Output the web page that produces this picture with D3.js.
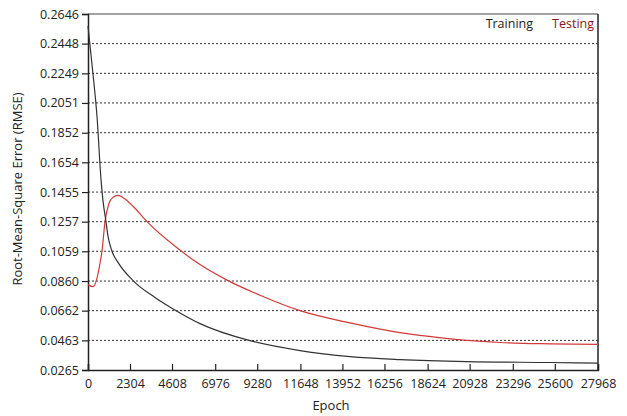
<!DOCTYPE html>
<html>
<head>
<meta charset="utf-8">
<script src="https://cdn.jsdelivr.net/npm/d3@7/dist/d3.min.js"></script>
<style>
  body { margin: 0; background: #fff; }
  svg { display: block; font-family: "Open Sans", sans-serif; }
</style>
</head>
<body>
<svg id="chart" width="627" height="416"></svg>
<script>
// tick labels
var yTicks = [0.0265, 0.0463, 0.0662, 0.0860, 0.1059, 0.1257, 0.1455, 0.1654, 0.1852, 0.2051, 0.2249, 0.2448, 0.2646];
var xTicks = [0, 2304, 4608, 6976, 9280, 11648, 13952, 16256, 18624, 20928, 23296, 25600, 27968];

// training curve (epoch, rmse)
var trainEpoch = [0, 274, 494, 713, 823, 987, 1097, 1316, 1645, 2468, 3674, 4880, 6142, 8884, 11626, 14368, 17110, 20784, 25336, 27968];
var trainRmse = [0.2566, 0.2245, 0.1960, 0.1540, 0.1396, 0.1257, 0.1160, 0.1059, 0.0985, 0.0863, 0.0750, 0.0658, 0.0575, 0.0461, 0.0395, 0.0355, 0.0335, 0.0321, 0.0315, 0.0311];

// testing curve (epoch, rmse)
var testEpoch = [0, 274, 494, 658, 768, 932, 1152, 1371, 1645, 1974, 2468, 3236, 4880, 6142, 7623, 9432, 11626, 14368, 17110, 18920, 20784, 22594, 25336, 27968];
var testRmse = [0.0836, 0.0822, 0.0879, 0.0979, 0.1059, 0.1257, 0.1380, 0.1420, 0.1433, 0.1413, 0.1360, 0.1257, 0.1082, 0.0970, 0.0866, 0.0765, 0.0662, 0.0580, 0.0515, 0.0487, 0.0463, 0.0449, 0.0440, 0.0436];

var seriesNames = ['Training', 'Testing'];

var margin = {left: 88, right: 29, top: 14, bottom: 46};
var width = 627, height = 416;

var svg = d3.select('#chart');

var x = d3.scaleLinear()
    .domain([0, 27968])
    .range([margin.left, width - margin.right]);
var y = d3.scaleLinear()
    .domain([0.0265, 0.2646])
    .range([height - margin.bottom, margin.top]);

// dotted grid lines
svg.append('g')
    .selectAll('line')
    .data(yTicks.slice(1, -1))
    .enter()
    .append('line')
    .attr('x1', x(0))
    .attr('x2', x(27968))
    .attr('y1', function (d) { return y(d); })
    .attr('y2', function (d) { return y(d); })
    .style('stroke', '#333')
    .style('stroke-width', 1)
    .style('stroke-dasharray', '2,2');

// frame top + right
svg.append('line')
    .attr('x1', x(0)).attr('x2', x(27968))
    .attr('y1', y(0.2646)).attr('y2', y(0.2646))
    .style('stroke', '#444').style('stroke-width', 1.2);
svg.append('line')
    .attr('x1', x(27968)).attr('x2', x(27968))
    .attr('y1', y(0.2646)).attr('y2', y(0.0265))
    .style('stroke', '#222').style('stroke-width', 1.5);

var yAxis = d3.axisLeft(y)
    .tickValues(yTicks)
    .tickSize(6)
    .tickPadding(3)
    .tickFormat(d3.format('.4f'));
var gy = svg.append('g')
    .attr('transform', 'translate(' + margin.left + ',0)')
    .call(yAxis);

var xAxis = d3.axisBottom(x)
    .tickValues(xTicks)
    .tickSize(-6)
    .tickPadding(9)
    .tickFormat(d3.format('d'));
var gx = svg.append('g')
    .attr('transform', 'translate(0,' + (height - margin.bottom) + ')')
    .call(xAxis);

[gx, gy].forEach(function (g) {
    g.select('.domain').style('stroke', '#222').style('stroke-width', 1.5);
    g.selectAll('.tick line').style('stroke', '#222').style('stroke-width', 1.2);
    g.selectAll('.tick text')
        .style('font-size', '12.5px')
        .style('fill', '#222')
        .style('font-family', '"Open Sans", sans-serif');
});

var line = d3.line()
    .x(function (d) { return x(d[0]); })
    .y(function (d) { return y(d[1]); })
    .curve(d3.curveMonotoneX);

svg.append('path')
    .datum(d3.zip(testEpoch, testRmse))
    .attr('d', line)
    .style('fill', 'none')
    .style('stroke', '#d23a3a')
    .style('stroke-width', 1.2);

svg.append('path')
    .datum(d3.zip(trainEpoch, trainRmse))
    .attr('d', line)
    .style('fill', 'none')
    .style('stroke', '#333')
    .style('stroke-width', 1.2);

// legend
svg.append('text')
    .attr('x', 533).attr('y', 28)
    .style('text-anchor', 'end')
    .style('font-size', '12.5px')
    .style('fill', '#222')
    .text(seriesNames[0]);
svg.append('text')
    .attr('x', 594).attr('y', 28)
    .style('text-anchor', 'end')
    .style('font-size', '12.5px')
    .style('fill', '#8b1616')
    .text(seriesNames[1]);

// axis titles
svg.append('text')
    .attr('transform', 'translate(22,' + 189 + ') rotate(-90)')
    .style('text-anchor', 'middle')
    .style('font-size', '13px')
    .style('fill', '#222')
    .text('Root-Mean-Square Error (RMSE)');
svg.append('text')
    .attr('x', 331).attr('y', 410)
    .style('text-anchor', 'middle')
    .style('font-size', '13px')
    .style('fill', '#222')
    .text('Epoch');
</script>
</body>
</html>
